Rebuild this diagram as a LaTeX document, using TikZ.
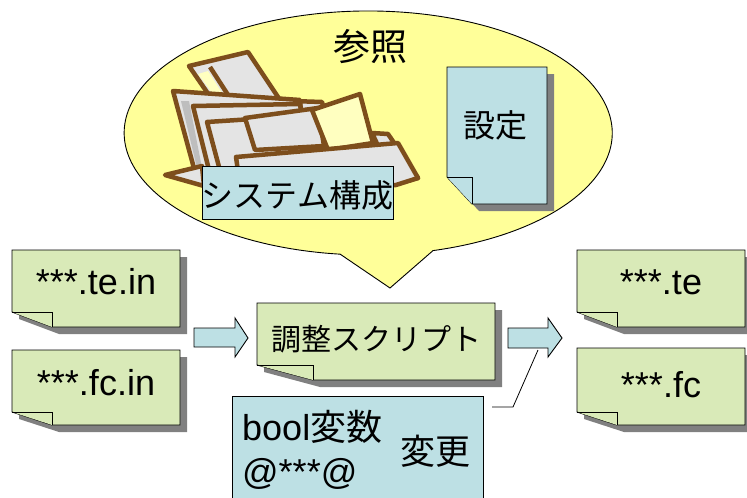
\documentclass[tikz,border=0pt]{standalone}
\usepackage{fontspec}
\setmainfont{Liberation Sans}
\newfontfamily\jpfont{Noto Sans CJK JP}
\usetikzlibrary{calc}

\definecolor{docgreen}{RGB}{217,234,184}
\definecolor{docblue}{RGB}{189,224,228}
\definecolor{balloonyellow}{RGB}{255,255,153}
\definecolor{shadowgray}{RGB}{128,128,128}
\definecolor{clipbrown}{RGB}{125,78,28}
\definecolor{sheetgray}{RGB}{228,228,228}
\definecolor{sheetdark}{RGB}{190,190,190}
\definecolor{sheetyellow}{RGB}{255,255,192}

% Document sheet with a folded bottom-left corner and a drop shadow.
% #1 node name, #2 fold width, #3 fold height, #4 fill colour
\newcommand{\paperdoc}[4]{%
  \fill[shadowgray]
    ($(#1.north west)+(7,7)$) -- ($(#1.north east)+(7,7)$) --
    ($(#1.south east)+(7,7)$) -- ($(#1.south west)+(#2+7,7)$) --
    ($(#1.south west)+(7,-#3+7)$) -- cycle;
  \filldraw[outline, fill=#4]
    (#1.north west) -- (#1.north east) -- (#1.south east) --
    ($(#1.south west)+(#2,0)$) -- ($(#1.south west)+(0,-#3)$) -- cycle;
  \filldraw[outline, fill=#4]
    ($(#1.south west)+(0,-#3)$) -- ($(#1.south west)+(#2,-#3)$) --
    ($(#1.south west)+(#2,0)$);
}

\begin{document}
\begin{tikzpicture}[x=1pt, y=-1pt,
  outline/.style={draw=black, line width=0.9pt, line join=miter},
  docnode/.style={rectangle, inner sep=0pt, outer sep=0pt},
  doclabel/.style={font=\fontsize{36}{40}\selectfont, inner sep=0pt},
  jplabel/.style={font=\jpfont\fontsize{32}{38}\selectfont, inner sep=0pt},
  blockarrow/.style={outline, fill=docblue},
  clipline/.style={draw=clipbrown, line width=4.5pt, line join=round},
]
\useasboundingbox (0,0) rectangle (747,498);
\clip (0,0) rectangle (747,498);

% ---------- speech balloon ----------
\coordinate (balloontip) at (390,288);
\filldraw[outline, fill=balloonyellow]
  (433,250.6) arc[start angle=-74.6, end angle=263.4, x radius=244pt, y radius=122pt]
  -- (balloontip) -- cycle;
\node[jplabel, font=\jpfont\fontsize{37}{42}\selectfont] (sansho) at (370,47) {参照};

% ---------- pile of papers ----------
\filldraw[clipline, fill=sheetgray] (189,66) -- (248,52) -- (284,106) -- (222,114) -- cycle;
\fill[sheetyellow] (198,74) -- (208,71) -- (226,99) -- (218,101) -- cycle;
\draw[clipline] (210,67) -- (230,98);
\filldraw[clipline, fill=sheetgray] (262,100) -- (322,102) -- (332,142) -- (270,142) -- cycle;
\filldraw[clipline, fill=sheetgray] (173,91) -- (300,100) -- (306,172) -- (195,172) -- cycle;
\fill[sheetdark] (181,101) -- (189,101) -- (202,168) -- (197,168) -- cycle;
\filldraw[clipline, fill=sheetgray] (193,106) -- (300,104) -- (310,172) -- (210,174) -- cycle;
\filldraw[clipline, fill=sheetgray] (207,122) -- (268,118) -- (285,176) -- (222,178) -- cycle;
\filldraw[clipline, fill=sheetgray] (245,118) -- (318,108) -- (324,146) -- (255,150) -- cycle;
\filldraw[clipline, fill=sheetyellow] (312,110) -- (360,94) -- (373,143) -- (328,150) -- cycle;
\filldraw[clipline, fill=sheetgray] (372,133) -- (388,134) -- (418,178) -- (396,184) -- cycle;
\filldraw[clipline, fill=sheetgray] (236,157) -- (398,143) -- (418,178) -- (396,185) -- (240,185) -- cycle;
\filldraw[clipline, fill=sheetgray] (165,175) -- (202,166) -- (204,186) -- cycle;

% ---------- system configuration label ----------
\node[docnode, outline, fill=docblue, minimum width=191pt, minimum height=53pt] (syscfg) at (297.5,192.5) {};
\node[jplabel] (syscfg-label) at (297.5,195) {システム構成};

% ---------- settings sheet ----------
\node[docnode, minimum width=100pt, minimum height=137pt] (settei) at (497,135.5) {};
\paperdoc{settei}{25}{27}{docblue}
\node[jplabel] (settei-label) at (495,125) {設定};

% ---------- input files ----------
\node[docnode, minimum width=168pt, minimum height=77pt] (tein) at (96,288.5) {};
\paperdoc{tein}{40}{15}{docgreen}
\node[doclabel] (tein-label) at (96,282) {***.te.in};

\node[docnode, minimum width=168pt, minimum height=75pt] (fcin) at (96,387.5) {};
\paperdoc{fcin}{40}{13}{docgreen}
\node[doclabel] (fcin-label) at (96,383) {***.fc.in};

% ---------- adjustment script ----------
\node[docnode, minimum width=238pt, minimum height=77pt] (script) at (376,341.5) {};
\paperdoc{script}{56}{15}{docgreen}
\node[jplabel, font=\jpfont\fontsize{30}{36}\selectfont] (script-label) at (376,339) {調整スクリプト};

% ---------- output files ----------
\node[docnode, minimum width=168pt, minimum height=77pt] (te) at (661,288.5) {};
\paperdoc{te}{40}{15}{docgreen}
\node[doclabel] (te-label) at (661,282) {***.te};

\node[docnode, minimum width=168pt, minimum height=77pt] (fc) at (661,386.5) {};
\paperdoc{fc}{40}{13}{docgreen}
\node[doclabel] (fc-label) at (661,385) {***.fc};

% ---------- block arrows ----------
\filldraw[blockarrow] (194,328) -- (235,328) -- (235,318) -- (248,338) -- (235,357) -- (235,347) -- (194,347) -- cycle;
\filldraw[blockarrow] (508,328) -- (548,328) -- (548,318) -- (562,338) -- (548,357) -- (548,348) -- (508,348) -- cycle;

% ---------- variable change note ----------
\node[docnode, outline, fill=docblue, minimum width=251pt, minimum height=114pt, anchor=north west] (boolbox) at (232,396) {};
\node[doclabel, anchor=base west] (boolvar) at (242,440) {bool{\jpfont\fontsize{36}{40}\selectfont 変数}};
\node[doclabel, anchor=base west] (atvar) at (242,484) {@***@};
\node[jplabel, font=\jpfont\fontsize{35}{40}\selectfont] (henkou) at (435,451) {変更};
\coordinate (notetip) at (538,350);
\draw[line width=0.8pt] ($(boolbox.north east)+(9,11)$) -- ++(21,0) -- (notetip);

\end{tikzpicture}
\end{document}
